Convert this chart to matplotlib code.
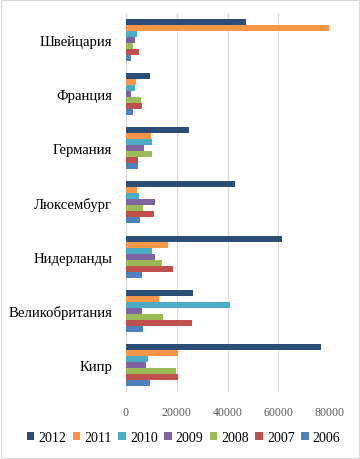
import matplotlib
matplotlib.use("Agg")
import matplotlib.pyplot as plt
from matplotlib.patches import Rectangle
import numpy as np

# страны сверху вниз
countries = ["Швейцария", "Франция", "Германия", "Люксембург",
             "Нидерланды", "Великобритания", "Кипр"]
years = ["2012", "2011", "2010", "2009", "2008", "2007", "2006"]

v2012 = [47100, 9600, 25000, 42800, 61300, 26600, 76700]
v2011 = [80000, 4100, 10000, 4500, 16700, 13200, 20300]
v2010 = [4500, 3700, 10400, 5200, 10400, 40800, 8800]
v2009 = [3700, 2100, 7200, 11600, 11600, 6400, 8000]
v2008 = [2900, 6000, 10400, 6800, 14300, 14700, 19900]
v2007 = [5200, 6400, 4900, 11200, 18700, 26200, 20600]
v2006 = [2100, 2900, 4900, 5600, 6400, 6800, 9600]
series = [v2012, v2011, v2010, v2009, v2008, v2007, v2006]

colors = ["#2C4D75", "#F79646", "#4BACC6", "#8064A2",
          "#9BBB59", "#C0504D", "#4F81BD"]

plt.rcParams["font.family"] = ["Liberation Serif", "DejaVu Serif"]

fig = plt.figure(figsize=(3.6, 4.6), dpi=100)
ax = fig.add_axes([0.35, 0.1457, 0.5639, 0.824])

n = len(countries)
pos = np.arange(n)[::-1]
h = 0.111
for i, (vals, c, y) in enumerate(zip(series, colors, years)):
    ax.barh(pos + (3 - i) * h, vals, height=h, color=c, label=y, zorder=3)

ax.set_xlim(0, 80000)
ax.set_ylim(-0.5, n - 0.5)
ax.set_xticks([0, 20000, 40000, 60000, 80000])
ax.set_yticks(pos)
ax.set_yticklabels(countries, fontsize=10.6)
ax.tick_params(axis="y", length=0, pad=10)
ax.tick_params(axis="x", length=0, pad=10, labelsize=8.5, labelcolor="#595959")
ax.grid(axis="x", color="#D9D9D9", linewidth=0.8, zorder=0)
for s in ax.spines.values():
    s.set_visible(False)

fig.legend(loc="center", bbox_to_anchor=(0.51, 0.047), ncol=7, frameon=False,
           fontsize=10, handlelength=0.55, handleheight=0.55,
           handletextpad=0.3, columnspacing=0.45)

# рамка вокруг картинки
fig.patches.append(Rectangle((0.002, 0.002), 0.996, 0.996, transform=fig.transFigure,
                             fill=False, edgecolor="#D9D9D9", linewidth=0.8))

fig.savefig("out.png", dpi=100)
